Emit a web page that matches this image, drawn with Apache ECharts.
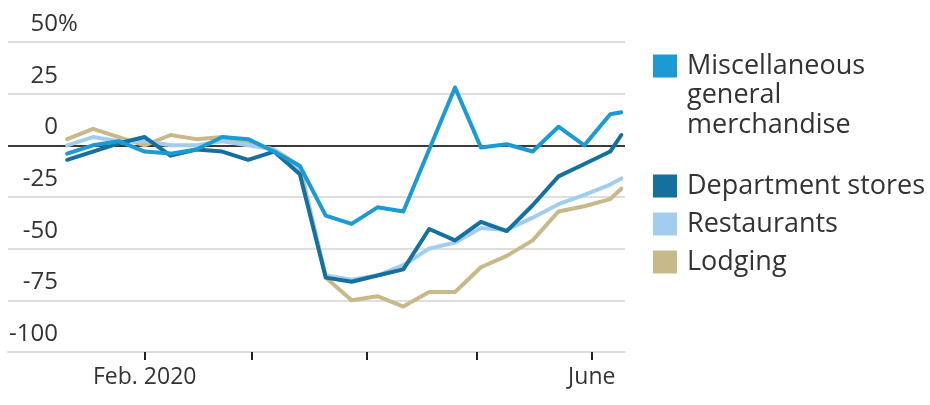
<!DOCTYPE html>
<html>
<head>
<meta charset="utf-8">
<script src="https://cdn.jsdelivr.net/npm/echarts@6/dist/echarts.min.js"></script>
<style>
  html, body { margin: 0; padding: 0; background: #fff; }
  #chart { width: 930px; height: 405px; }
</style>
</head>
<body>
<div id="chart"></div>
<script>
// ---- data (weekly, year-over-year % change) ----
const dates = ['2020-01-11','2020-01-18','2020-01-25','2020-02-01','2020-02-08','2020-02-15','2020-02-22','2020-02-29',
  '2020-03-07','2020-03-14','2020-03-21','2020-03-28','2020-04-04','2020-04-11','2020-04-18','2020-04-25',
  '2020-05-02','2020-05-09','2020-05-16','2020-05-23','2020-05-30','2020-06-06','2020-06-09'];
const misc    = [-4, 0, 2, -3, -4, -2, 4, 3, -3, -10, -34, -38, -30, -32, -2, 28, -1, 0.5, -3, 9, 0, 15, 16];
const dept    = [-7, -3, 1, 4, -5, -2, -3, -7, -3, -14, -64, -66, -63, -60, -40.5, -46, -37, -41.5, -29, -15, -9, -3, 5];
const rest    = [0, 4, 2, 2, 0, 0, 2, 0, -2, -12, -63, -65, -63, -58, -50, -47, -40, -41, -35, -28.5, -24, -19, -16];
const lodging = [3, 8, 4, 0, 5, 3, 4, 1, -2, -10, -64, -75, -73, -78, -71, -71, -59, -53.5, -46, -32, -29.5, -26, -21];

const seriesNames = ['Miscellaneous general merchandise', 'Department stores', 'Restaurants', 'Lodging'];
const seriesColors = ['#1b9ad3', '#13709f', '#a3cdee', '#c8b98b'];

const yTicks = [-100, -75, -50, -25, 0, 25, 50];
const xTickDates = ['2020-02-01', '2020-03-01', '2020-04-01', '2020-05-01', '2020-06-01'];
const xLabelDates = ['2020-02-01', '2020-06-01'];
const xTickLabels = ['Feb. 2020', 'June'];
const xMin = '2019-12-26';
const xMax = '2020-06-10';

// ---- chart ----
const P = s => Date.parse(s + 'T00:00:00Z');
const pairs = arr => dates.map((d, i) => [P(d), arr[i]]);
const labelMap = {};
xLabelDates.forEach((d, i) => { labelMap[P(d)] = xTickLabels[i]; });

const FONT = 'Open Sans';
const chart = echarts.init(document.getElementById('chart'));

const valuesByName = {};
valuesByName[seriesNames[0]] = misc;
valuesByName[seriesNames[1]] = dept;
valuesByName[seriesNames[2]] = rest;
valuesByName[seriesNames[3]] = lodging;

// draw order: lodging bottom, misc on top
const drawOrder = [3, 2, 1, 0];

chart.setOption({
  animation: false,
  backgroundColor: '#fff',
  textStyle: { fontFamily: FONT },
  grid: { left: 8, right: 305, top: 42, bottom: 53, containLabel: false },
  xAxis: {
    type: 'value',
    min: P(xMin),
    max: P(xMax),
    axisLine: { show: true, onZero: false, lineStyle: { color: '#dcdcdc', width: 2 } },
    axisTick: {
      show: true, length: 8, customValues: xTickDates.map(P),
      lineStyle: { color: '#222', width: 2 }
    },
    axisLabel: {
      customValues: xLabelDates.map(P),
      formatter: v => labelMap[v] || '',
      fontFamily: FONT, fontSize: 23, color: '#333', margin: 14
    },
    splitLine: { show: false }
  },
  yAxis: {
    type: 'value',
    min: yTicks[0],
    max: yTicks[yTicks.length - 1],
    interval: 25,
    axisLine: { show: false },
    axisTick: { show: false },
    splitLine: {
      show: true,
      lineStyle: { color: yTicks.map(v => v === 0 ? '#3a3a3a' : '#dedede'), width: 2 }
    },
    axisLabel: {
      inside: true,
      align: 'right',
      verticalAlign: 'middle',
      margin: 70,
      padding: [0, 0, 36, 0],
      formatter: v => v === 50 ? '{n|50}{p|%}' : '{n|' + v + '}{p| }',
      rich: {
        n: { fontFamily: FONT, fontSize: 24, color: '#333' },
        p: { fontFamily: FONT, fontSize: 24, color: '#333', width: 20, align: 'left' }
      }
    }
  },
  legend: [
    {
      data: [seriesNames[0]],
      orient: 'vertical', left: 653, top: -7.75, padding: 0,
      icon: 'rect', itemWidth: 24, itemHeight: 23, selectedMode: false,
      formatter: () => '\n\nMiscellaneous\ngeneral\nmerchandise',
      textStyle: { fontFamily: FONT, fontSize: 27, lineHeight: 29.5, color: '#333', padding: [0, 0, 0, 5] }
    },
    {
      data: [seriesNames[1], seriesNames[2], seriesNames[3]],
      orient: 'vertical', left: 653, top: 171.5, padding: 0, itemGap: 9,
      icon: 'rect', itemWidth: 24, itemHeight: 23, selectedMode: false,
      textStyle: { fontFamily: FONT, fontSize: 27, lineHeight: 29, color: '#333', padding: [0, 0, 0, 5] }
    }
  ],
  series: drawOrder.map(i => ({
    name: seriesNames[i],
    type: 'line',
    data: pairs(valuesByName[seriesNames[i]]),
    showSymbol: false,
    color: seriesColors[i],
    lineStyle: { width: 4, color: seriesColors[i], join: 'round', cap: 'round' },
    emphasis: { disabled: true },
    z: 3 + (3 - i)
  }))
});
</script>
</body>
</html>
